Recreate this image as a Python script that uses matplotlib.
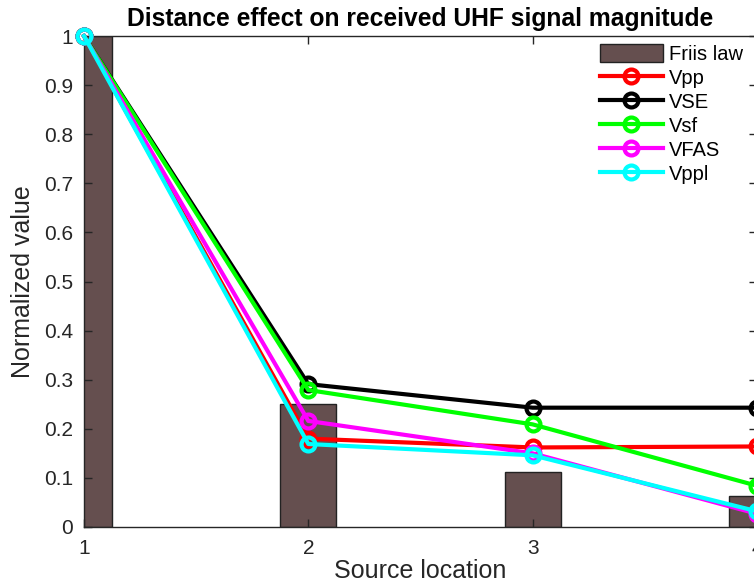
import matplotlib.pyplot as plt

plt.rcParams["font.family"] = ["Liberation Sans", "DejaVu Sans"]

# Source positions and measured/predicted values
location = [1, 2, 3, 4]
friis = [1.0, 0.25, 0.111, 0.0625]
vpp = [1.0, 0.180, 0.162, 0.164]
vse = [1.0, 0.291, 0.243, 0.243]
vsf = [1.0, 0.279, 0.209, 0.084]
vfas = [1.0, 0.216, 0.150, 0.027]
vppl = [1.0, 0.169, 0.146, 0.032]

series = [
    ("Vpp", vpp, "#ff0000"),
    ("VSE", vse, "#000000"),
    ("Vsf", vsf, "#00ff00"),
    ("VFAS", vfas, "#ff00ff"),
    ("Vppl", vppl, "#00ffff"),
]

fig = plt.figure(figsize=(7.54, 5.86), dpi=100)
ax = fig.add_axes([84 / 754, 1 - 527 / 586, 673 / 754, 491 / 586])

handles = []
bars = ax.bar(location, friis, width=0.25, color="#654f4f",
              edgecolor="#222222", linewidth=1, label="Friis law", zorder=1)
handles.append(bars)

for name, vals, col in series:
    ln, = ax.plot(location, vals, "-o", color=col, lw=3, ms=10, mfc="none",
                  mew=3, label=name, zorder=3, clip_on=False)
    handles.append(ln)

ax.set_xlim(1, 4)
ax.set_ylim(0, 1)
ax.set_xticks(location)
ax.set_yticks([i / 10 for i in range(11)])
ax.set_yticklabels(["0", "0.1", "0.2", "0.3", "0.4", "0.5", "0.6", "0.7",
                    "0.8", "0.9", "1"])

for s in ax.spines.values():
    s.set_color("#262626")
    s.set_linewidth(1)
ax.tick_params(direction="in", length=6, width=1, colors="#262626",
               labelsize=15, top=True, right=True)
ax.tick_params(axis="y", pad=8)
ax.tick_params(axis="x", pad=9)

ax.set_xlabel("Source location", fontsize=18, color="#262626", labelpad=0)
ax.set_ylabel("Normalized value", fontsize=18, color="#262626", labelpad=6)
ax.set_title("Distance effect on received UHF signal magnitude",
             fontsize=17.7, fontweight="bold", pad=7)

ax.legend(handles=handles, labels=[h.get_label() for h in handles],
          loc="upper left", bbox_to_anchor=(0.746, 1.012), frameon=False,
          fontsize=14.5, handlelength=3.1, handleheight=1.0,
          handletextpad=0.3, labelspacing=0.2, borderaxespad=0.3)

fig.savefig("out.png", dpi=100)
